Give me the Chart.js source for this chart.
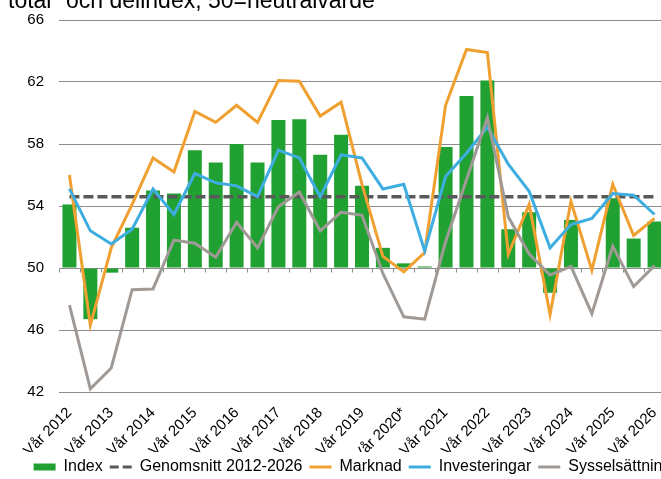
<!DOCTYPE html>
<html><head><meta charset="utf-8">
<script src="https://cdn.jsdelivr.net/npm/chart.js@4/dist/chart.umd.min.js"></script>
<style>
html,body{margin:0;padding:0;background:#fff;overflow:hidden;width:661px;height:479px;}
#wrap{position:relative;width:705px;height:485px;}
#title{position:absolute;left:8px;top:-11px;font:23px/23px "Liberation Sans",Arial,sans-serif;color:#000;white-space:nowrap;}
canvas{position:absolute;left:0;top:0;}
</style></head><body>
<div id="wrap"><canvas id="c" width="705" height="485"></canvas><div id="title">total" och delindex, 50=neutralvärde</div></div>
<script>
const categories = ["Vår 2012","Höst 2012","Vår 2013","Höst 2013","Vår 2014","Höst 2014","Vår 2015","Höst 2015","Vår 2016","Höst 2016","Vår 2017","Höst 2017","Vår 2018","Höst 2018","Vår 2019","Höst 2019","Vår 2020*","Höst 2020","Vår 2021","Höst 2021","Vår 2022","Höst 2022","Vår 2023","Höst 2023","Vår 2024","Höst 2024","Vår 2025","Höst 2025","Vår 2026"];
const indexValues = [54.1,46.7,49.7,52.6,55.0,54.8,57.6,56.8,58.0,56.8,59.55,59.6,57.3,58.6,55.3,51.3,50.3,50.1,57.8,61.1,62.1,52.5,53.6,48.4,53.1,50.0,54.5,51.9,53.0];
const genomsnitt = [54.6,54.6,54.6,54.6,54.6,54.6,54.6,54.6,54.6,54.6,54.6,54.6,54.6,54.6,54.6,54.6,54.6,54.6,54.6,54.6,54.6,54.6,54.6,54.6,54.6,54.6,54.6,54.6,54.6];
const marknad = [56.0,46.3,51.3,54.1,57.1,56.2,60.1,59.4,60.5,59.4,62.1,62.05,59.8,60.7,55.4,50.75,49.75,51.0,60.5,64.1,63.9,50.9,54.1,47.0,54.3,49.85,55.4,52.1,53.2];
const investeringar = [55.1,52.4,51.55,52.5,55.1,53.45,56.1,55.5,55.3,54.6,57.6,57.1,54.6,57.3,57.1,55.1,55.4,51.1,55.9,57.4,59.1,56.7,54.95,51.3,52.8,53.2,54.8,54.7,53.45];
const sysselsattning = [47.6,42.2,43.55,48.6,48.65,51.8,51.6,50.7,52.95,51.3,53.95,54.9,52.4,53.6,53.4,49.65,46.85,46.7,51.7,55.7,59.7,53.3,50.9,49.55,50.1,47.05,51.4,48.8,50.15];
const yTicks = [42,46,50,54,58,62,66];

const FONT = '"Liberation Sans", Arial, sans-serif';

const midTicks = {
  id: 'midTicks',
  beforeDatasetsDraw(chart) {
    const x = chart.scales.x, y = chart.scales.y;
    const ctx = chart.ctx;
    const py = Math.round(y.getPixelForValue(50)) + 0.5;
    ctx.save();
    ctx.strokeStyle = '#8c8c8c';
    ctx.lineWidth = 1;
    ctx.beginPath();
    for (let k = 0; k <= categories.length; k++) {
      const px = Math.round(x.getPixelForValue(k - 0.5)) + 0.5;
      ctx.moveTo(px, py);
      ctx.lineTo(px, py + 4);
    }
    ctx.stroke();
    ctx.restore();
  }
};

new Chart(document.getElementById('c'), {
  data: {
    labels: categories,
    datasets: [
      { type: 'bar', label: 'Index', data: indexValues, base: 50, backgroundColor: '#21a132', borderWidth: 0, categoryPercentage: 1, barPercentage: 0.67, order: 5 },
      { type: 'line', label: 'Genomsnitt 2012-2026', data: genomsnitt, borderColor: '#595959', borderWidth: 3.5, borderDash: [10, 4], pointRadius: 0, tension: 0, order: 4 },
      { type: 'line', label: 'Marknad', data: marknad, borderColor: '#f0a030', borderWidth: 3, pointRadius: 0, tension: 0, order: 3 },
      { type: 'line', label: 'Investeringar', data: investeringar, borderColor: '#3eaee0', borderWidth: 3, pointRadius: 0, tension: 0, order: 2 },
      { type: 'line', label: 'Sysselsättning', data: sysselsattning, borderColor: '#a09a96', borderWidth: 3, pointRadius: 0, tension: 0, order: 1 }
    ]
  },
  options: {
    responsive: false,
    animation: false,
    layout: { padding: { left: 0, right: 0, top: 20, bottom: 0 } },
    plugins: {
      tooltip: { enabled: false },
      legend: {
        position: 'bottom',
        labels: {
          font: { family: FONT, size: 16 },
          color: '#000',
          usePointStyle: true,
          pointStyleWidth: 22,
          boxHeight: 7,
          padding: 7,
          generateLabels(chart) {
            return chart.data.datasets.map((ds, i) => {
              if (ds.type === 'bar') {
                return { text: ds.label, datasetIndex: i, pointStyle: 'rect', fillStyle: ds.backgroundColor, strokeStyle: ds.backgroundColor, lineWidth: 0, fontColor: '#000' };
              }
              return { text: ds.label, datasetIndex: i, pointStyle: 'line', fillStyle: ds.borderColor, strokeStyle: ds.borderColor, lineWidth: 3, lineDash: ds.borderDash ? [9, 4] : [], fontColor: '#000' };
            });
          }
        }
      }
    },
    scales: {
      x: {
        offset: true,
        afterFit(scale) { scale.height = 60; },
        grid: { display: false },
        border: { display: false },
        ticks: {
          font: { family: FONT, size: 15 },
          color: '#000',
          autoSkip: false,
          minRotation: 45,
          maxRotation: 45,
          padding: 4,
          callback(v, i) { return i % 2 === 0 ? categories[i] : ''; }
        }
      },
      y: {
        min: 42, max: 66,
        afterFit(scale) { scale.width = 59; },
        afterBuildTicks(scale) { scale.ticks = yTicks.map(v => ({ value: v })); },
        grid: { color: '#8c8c8c', lineWidth: 1, drawTicks: true, tickLength: 15, tickColor: 'rgba(0,0,0,0)' },
        border: { display: false },
        ticks: { font: { family: FONT, size: 15 }, color: '#000', padding: 0 }
      },
      yRight: {
        position: 'right',
        min: 0, max: 1,
        afterFit(scale) { scale.width = 40; },
        grid: { display: false, drawTicks: false },
        border: { display: false },
        ticks: { display: false }
      }
    }
  },
  plugins: [midTicks]
});
</script>
</body></html>
